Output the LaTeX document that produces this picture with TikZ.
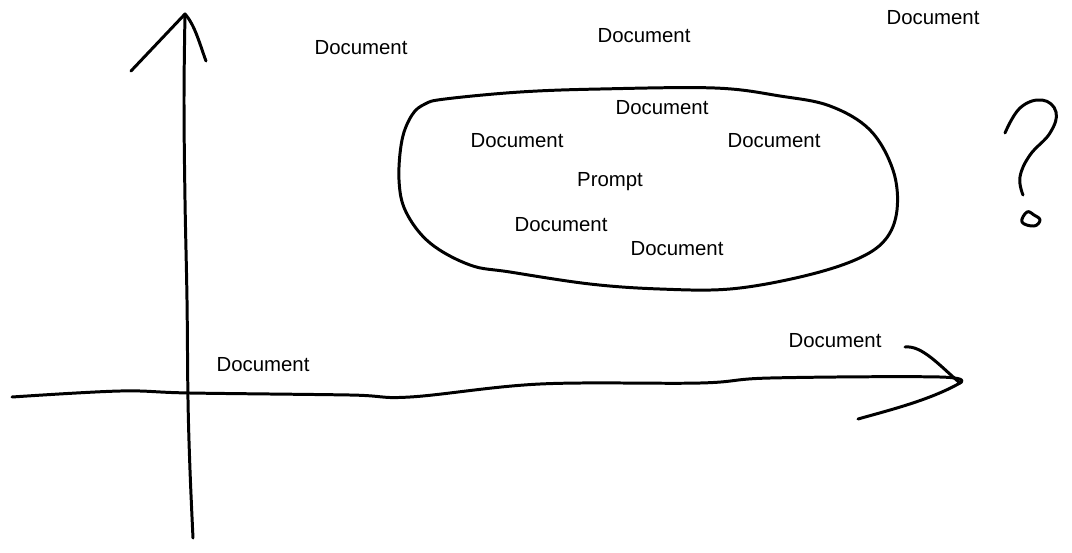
\documentclass[tikz,border=0pt]{standalone}
\usepackage{fontspec}
\setmainfont{Liberation Sans}
\usetikzlibrary{positioning}
\tikzset{
    doc/.style={font=\fontsize{11.6pt}{13pt}\selectfont, inner sep=0pt},
    pen/.style={line width=1.7pt, line cap=round, line join=round}
}
\begin{document}
\begin{tikzpicture}[x=0.02cm, y=-0.02cm]
    \useasboundingbox (0,0) rectangle (1072,552);
    % axes
    \draw[pen] plot[smooth, tension=0.6] coordinates {(193,538) (190,470) (188,400) (187,300) (185,200) (184,100) (185,14)};
    \draw[pen] (131,71) -- (185,14) .. controls (195,25) and (200,45) .. (206,61);
    \draw[pen] plot[smooth, tension=0.6] coordinates {(12,397) (120,391) (190,393) (350,395) (410,397) (540,384) (700,383) (770,378) (940,377) (960,383)};
    \draw[pen] (905,347) .. controls (922,345) and (940,366) .. (960,383) .. controls (930,400) and (890,410) .. (858,419);
    % cloud
    \draw[pen] plot[smooth cycle, tension=0.6] coordinates {(445,99) (520,92) (600,89) (715,88) (780,96) (830,106) (870,130) (893,170) (897,210) (885,240) (855,260) (800,277) (730,289) (660,289) (590,284) (510,272) (470,265) (430,243) (406,212) (399,180) (402,140) (412,115) (425,104)};
    % question mark
    \draw[pen] plot[smooth, tension=0.7] coordinates {(1005,133) (1020,108) (1042,100) (1056,112) (1050,133) (1030,155) (1020,177) (1023,195)};
    \draw[pen] plot[smooth cycle, tension=0.7] coordinates {(1027,212) (1022,222) (1034,226) (1040,220) (1034,215)};
    % labels
    \node[doc] (d1) at (361,48) {Document};
    \node[doc] (d2) at (644,36) {Document};
    \node[doc] (d3) at (933,18) {Document};
    \node[doc] (d4) at (662,108) {Document};
    \node[doc] (d5) at (517,141) {Document};
    \node[doc] (d6) at (774,141) {Document};
    \node[doc] (pr) at (610,182) {Prompt};
    \node[doc] (d7) at (561,225) {Document};
    \node[doc] (d8) at (677,249) {Document};
    \node[doc] (d9) at (835,341) {Document};
    \node[doc] (d10) at (263,365) {Document};
\end{tikzpicture}
\end{document}
